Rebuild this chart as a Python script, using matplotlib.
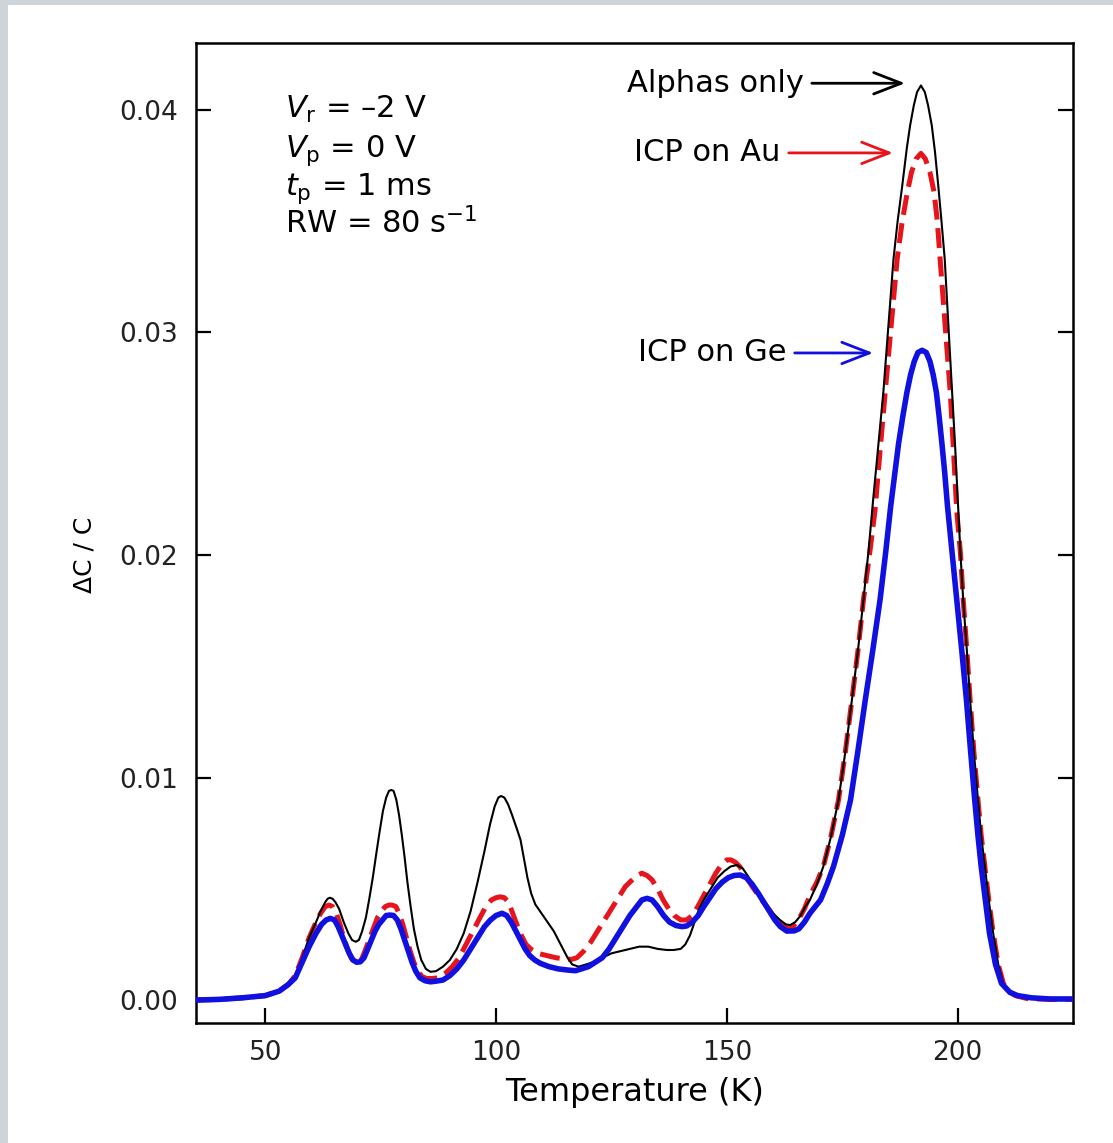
import numpy as np
import matplotlib
matplotlib.use('Agg')
import matplotlib.pyplot as plt
from matplotlib.patches import Rectangle

# --- data (T in K, dC/C) ---
t_alpha = [35, 40, 45, 50, 53, 55, 56.5, 58, 59.5, 61, 62, 63, 63.5, 64, 64.6,
           65.2, 66, 67, 68, 68.8, 69.6, 70.3, 71, 71.8, 72.5, 73.3, 74, 74.8,
           75.5, 76.2, 76.8, 77.3, 77.8, 78.4, 79, 79.6, 80.2, 80.8, 81.5, 82.2,
           83, 83.8, 84.8, 85.8, 87, 88.5, 90, 91.5, 93, 94.5, 96, 97.5, 98.7,
           99.7, 100.5, 101.1, 101.8, 102.6, 103.5, 104.5, 105.3, 106, 106.8,
           107.6, 108.5, 109.5, 110.5, 111.5, 112.5, 113.5, 114.5, 115.5, 116.5,
           117.9, 119.5, 121, 123, 125, 127, 129, 131, 133, 135, 137, 138.5,
           140, 141, 142, 143, 144, 145, 146.5, 148, 149.5, 150.8, 152.2, 153.5,
           154.8, 156, 157.2, 158.5, 160, 161.5, 162.8, 163.7, 164.8, 166, 167,
           168, 169.5, 170.9, 172.5, 174.2, 175.7, 177.1, 178.4, 179.6, 180.7,
           181.7, 182.8, 183.9, 185, 186.1, 187, 188, 189, 189.7, 190.5, 191.2,
           192.05, 192.9, 193.6, 194.4, 195.1, 195.8, 196.5, 197.2, 198, 198.8,
           199.5, 200.1, 200.6, 201.2, 202, 202.7, 203.5, 204.4, 205.1, 205.9,
           206.8, 207.7, 208.8, 209.9, 211, 212.5, 215, 220, 225]
v_alpha = [0.0, 0.00003, 0.0001, 0.0002, 0.0004, 0.0007, 0.0011, 0.0019, 0.0028,
           0.0035, 0.004, 0.0044, 0.00455, 0.0046, 0.00455, 0.0044, 0.0041,
           0.0035, 0.003, 0.0027, 0.00262, 0.0027, 0.0031, 0.0037, 0.0045,
           0.0055, 0.0065, 0.0076, 0.0085, 0.0091, 0.0094, 0.00944, 0.0094,
           0.009, 0.0083, 0.0074, 0.0064, 0.0053, 0.0042, 0.0032, 0.0024,
           0.0018, 0.0014, 0.00127, 0.0013, 0.0015, 0.0018, 0.0023, 0.003,
           0.004, 0.0053, 0.0067, 0.0079, 0.0087, 0.0091, 0.00917, 0.0091,
           0.0088, 0.0083, 0.0077, 0.0072, 0.0064, 0.0055, 0.0048, 0.0043,
           0.004, 0.0037, 0.0034, 0.0031, 0.0027, 0.0023, 0.0019, 0.0016,
           0.0015, 0.0016, 0.0017, 0.0019, 0.0021, 0.0022, 0.0023, 0.0024,
           0.0024, 0.0023, 0.00225, 0.00225, 0.0023, 0.0025, 0.0029, 0.0035,
           0.0041, 0.0045, 0.005, 0.0055, 0.0058, 0.006, 0.00607, 0.0059,
           0.0055, 0.0051, 0.0047, 0.0043, 0.0039, 0.0036, 0.0034, 0.00337,
           0.0035, 0.0038, 0.0042, 0.0045, 0.0052, 0.006, 0.0073, 0.009, 0.0112,
           0.0135, 0.0157, 0.018, 0.0202, 0.0225, 0.0249, 0.0273, 0.0303,
           0.0333, 0.035, 0.0366, 0.0383, 0.0393, 0.0402, 0.0408, 0.0411,
           0.0408, 0.0402, 0.0393, 0.0381, 0.0366, 0.035, 0.0333, 0.0303,
           0.0273, 0.0247, 0.0222, 0.0201, 0.018, 0.0157, 0.0135, 0.0112, 0.009,
           0.0074, 0.006, 0.0044, 0.003, 0.0016, 0.00075, 0.0004, 0.0002,
           0.00007, 0.00003, 0.00003]

t_au = [35, 40, 45, 50, 53, 55, 56.5, 58, 59.5, 61, 62, 63, 63.8, 64.6, 65.4,
        66.2, 67, 67.8, 68.6, 69.3, 70, 70.8, 71.6, 72.5, 73.4, 74.3, 75.2, 76,
        76.8, 77.5, 78.3, 79, 79.8, 80.6, 81.4, 82.2, 83, 84, 85, 86.1, 87.5,
        89, 90.5, 92, 93.5, 95, 96.5, 97.8, 99, 100, 100.9, 101.8, 102.7,
        103.6, 104.5, 105.5, 106.5, 107.5, 109, 111, 113, 115, 116.4, 117.5,
        119, 120.5, 122, 123.5, 125, 126.5, 128, 129.5, 130.5, 131.6, 132.7,
        133.8, 135, 136.2, 137.4, 138.6, 140, 141.3, 142.5, 143.7, 145, 146.3,
        147.6, 148.9, 150, 150.9, 151.8, 152.8, 154, 155.5, 157.2, 159.4, 161,
        163, 164.3, 165.5, 166.8, 168, 169.5, 170.9, 172.5, 174.2, 175.7, 177.1,
        178.4, 179.6, 180.9, 182.1, 183.2, 184.3, 185.6, 186.9, 188, 189.1, 190,
        191, 192.05, 193, 194, 194.9, 195.6, 196.2, 197.3, 198.4, 199.1, 199.8,
        200.6, 201.2, 202, 202.7, 203.5, 204.4, 205.1, 205.9, 206.8, 207.7,
        208.8, 209.9, 211, 212.5, 215, 220, 225]
v_au = [0.0, 0.00003, 0.0001, 0.0002, 0.0004, 0.0007, 0.0011, 0.0019, 0.0028,
        0.0035, 0.0039, 0.0042, 0.00427, 0.0042, 0.0039, 0.0034, 0.0028,
        0.0023, 0.0019, 0.0017, 0.00168, 0.0018, 0.0022, 0.0027, 0.0032,
        0.0037, 0.004, 0.0042, 0.00427, 0.00427, 0.0042, 0.0039, 0.0034,
        0.0028, 0.0022, 0.0017, 0.0013, 0.00105, 0.00097, 0.00097, 0.001,
        0.0012, 0.0015, 0.0019, 0.0025, 0.0031, 0.0037, 0.0042, 0.0045, 0.0046,
        0.00464, 0.0046, 0.0044, 0.0039, 0.0034, 0.0029, 0.0025, 0.0023,
        0.0021, 0.002, 0.0019, 0.00185, 0.00183, 0.0019, 0.0022, 0.0026,
        0.0031, 0.0036, 0.0041, 0.0046, 0.0051, 0.0054, 0.0056, 0.0057,
        0.0056, 0.0054, 0.005, 0.0045, 0.0041, 0.0038, 0.0036, 0.0036, 0.0038,
        0.0042, 0.0047, 0.0052, 0.0057, 0.0061, 0.0063, 0.0063, 0.0062, 0.006,
        0.0056, 0.0051, 0.0046, 0.004, 0.0035, 0.00322, 0.0033, 0.0036,
        0.0041, 0.0047, 0.0053, 0.006, 0.0073, 0.009, 0.0112, 0.0135, 0.0157,
        0.018, 0.02, 0.022, 0.0247, 0.0273, 0.0303, 0.0333, 0.035, 0.0363,
        0.0372, 0.0378, 0.03805, 0.0378, 0.0372, 0.0363, 0.035, 0.0333,
        0.0303, 0.0273, 0.0247, 0.022, 0.0201, 0.018, 0.0157, 0.0135, 0.0112,
        0.009, 0.0074, 0.006, 0.0044, 0.003, 0.0016, 0.00075, 0.0004, 0.0002,
        0.00007, 0.00003, 0.00003]

t_ge = [35, 40, 45, 50, 53, 55, 56.5, 58, 59.5, 61, 62.2, 63.2, 64.1, 65, 65.8,
        66.6, 67.4, 68.2, 69, 69.8, 70.6, 71.4, 72.2, 73, 73.8, 74.6, 75.4,
        76.2, 77, 77.8, 78.6, 79.4, 80.2, 81, 81.8, 82.6, 83.5, 84.6, 85.8, 87,
        88.5, 90, 91.5, 93, 94.5, 96, 97.5, 98.8, 100, 101.3, 102.3, 103.3,
        104.3, 105.3, 106.3, 107.3, 108.4, 109.6, 111.5, 113.5, 115.5, 117.2,
        118.5, 120, 121.5, 123, 124.5, 126, 127.5, 129, 130.5, 131.6, 132.7,
        133.8, 135, 136.3, 137.6, 139, 140.3, 141.3, 142.5, 143.8, 145, 146.3,
        147.6, 149, 150.3, 151.6, 152.9, 154.2, 155.5, 156.8, 158, 159.2,
        160.4, 161.6, 163, 164.6, 165.6, 166.8, 168, 170.3, 171.7, 173.1, 175,
        176.8, 178.4, 180, 181.6, 183.2, 184.4, 185.5, 186.4, 187.2, 188.1, 189,
        189.8, 190.6, 191.4, 192.3, 193.2, 194, 194.7, 195.4, 196, 196.6, 197.2,
        197.8, 198.8, 199.8, 200.9, 201.9, 202.8, 203.7, 204.4, 205.1, 206,
        206.9, 208.2, 209.5, 211.3, 213, 216, 220, 225]
v_ge = [0.0, 0.00003, 0.0001, 0.0002, 0.0004, 0.0007, 0.001, 0.0017, 0.0024,
        0.003, 0.0034, 0.0036, 0.00367, 0.0036, 0.0033, 0.0029, 0.0025, 0.0021,
        0.0018, 0.0017, 0.00172, 0.0019, 0.0023, 0.0027, 0.0031, 0.0034,
        0.0036, 0.0038, 0.00382, 0.0038, 0.0036, 0.0032, 0.0027, 0.0022,
        0.0017, 0.0013, 0.001, 0.00087, 0.00082, 0.00085, 0.0009, 0.0011,
        0.0014, 0.0018, 0.0023, 0.0028, 0.0033, 0.0036, 0.0038, 0.0039, 0.0038,
        0.0035, 0.0031, 0.0027, 0.0023, 0.002, 0.0018, 0.00165, 0.0015, 0.0014,
        0.00135, 0.00132, 0.0014, 0.0015, 0.0017, 0.0019, 0.0023, 0.0028,
        0.0033, 0.0038, 0.0042, 0.0045, 0.00457, 0.0045, 0.0042, 0.0038,
        0.0035, 0.00335, 0.0033, 0.00333, 0.0035, 0.0038, 0.0042, 0.0046,
        0.005, 0.0053, 0.0055, 0.0056, 0.00562, 0.0055, 0.0052, 0.0048, 0.0044,
        0.004, 0.0036, 0.0033, 0.0031, 0.00311, 0.0032, 0.0035, 0.0039, 0.0045,
        0.0052, 0.006, 0.0074, 0.009, 0.0112, 0.0135, 0.0157, 0.018, 0.0201,
        0.0222, 0.0237, 0.025, 0.0262, 0.0273, 0.0281, 0.0287, 0.0291, 0.0292,
        0.0291, 0.0287, 0.0281, 0.0273, 0.0262, 0.025, 0.0237, 0.0222, 0.0201,
        0.018, 0.0157, 0.0135, 0.0112, 0.009, 0.0074, 0.006, 0.0045, 0.003,
        0.0016, 0.00075, 0.00035, 0.0002, 0.0001, 0.00005, 0.00005]

labels = ['Alphas only', 'ICP on Au', 'ICP on Ge']
colors = ['black', '#e8141b', '#1010e0']
peak_T = [188.6, 186.0, 181.7]
peak_v = [0.0412, 0.03807, 0.02908]
label_T = [166.6, 161.6, 162.9]

params = [r'$V_\mathrm{r}$ = –2 V', r'$V_\mathrm{p}$ = 0 V',
          r'$t_\mathrm{p}$ = 1 ms', r'RW = 80 s$^{-1}$']

plt.rcParams['font.family'] = 'DejaVu Sans'
plt.rcParams['mathtext.fontset'] = 'dejavusans'

fig = plt.figure(figsize=(11.13, 11.43), dpi=100)
fig.patch.set_facecolor('#cdd5db')
fig.patches.append(Rectangle((8 / 1113, 0), 1, 1 - 5 / 1143, transform=fig.transFigure,
                             facecolor='white', edgecolor='none', zorder=-10))

ax = fig.add_axes([0.1761, 0.105, 0.788, 0.8574])
ax.plot(t_alpha, v_alpha, color=colors[0], lw=1.5, zorder=3)
ax.plot(t_au, v_au, color=colors[1], lw=3.6, dashes=(4, 1.7), zorder=2)
ax.plot(t_ge, v_ge, color=colors[2], lw=4, zorder=4)

ax.set_xlim(35, 225)
ax.set_ylim(-0.00103, 0.04301)
ax.set_xticks([50, 100, 150, 200])
ax.set_yticks([0.0, 0.01, 0.02, 0.03, 0.04])
ax.yaxis.set_major_formatter(matplotlib.ticker.FormatStrFormatter('%.2f'))
ax.tick_params(direction='in', length=11, width=1.6, labelsize=19, colors='black')
ax.tick_params(axis='y', right=True, pad=13, labelcolor='#222222')
ax.tick_params(axis='x', pad=12, labelcolor='#222222')
for s in ax.spines.values():
    s.set_linewidth(1.8)

ax.set_xlabel('Temperature (K)', fontsize=23, labelpad=8)
ax.set_ylabel('ΔC / C', fontsize=18)
ax.yaxis.set_label_coords(-0.113, 0.478)

for i in range(3):
    ax.annotate(labels[i], xy=(peak_T[i], peak_v[i]), xytext=(label_T[i], peak_v[i]),
                ha='right', va='center', fontsize=22,
                arrowprops=dict(arrowstyle='->,head_length=0.9,head_width=0.35',
                                color=colors[i], lw=2, shrinkA=4, shrinkB=0))

ys = [0.9235, 0.8837, 0.8449, 0.8061]
for i in range(len(params)):
    ax.text(0.101, ys[i], params[i], transform=ax.transAxes, fontsize=22,
            va='baseline', ha='left')

fig.savefig('out.png', dpi=100, facecolor=fig.get_facecolor())
